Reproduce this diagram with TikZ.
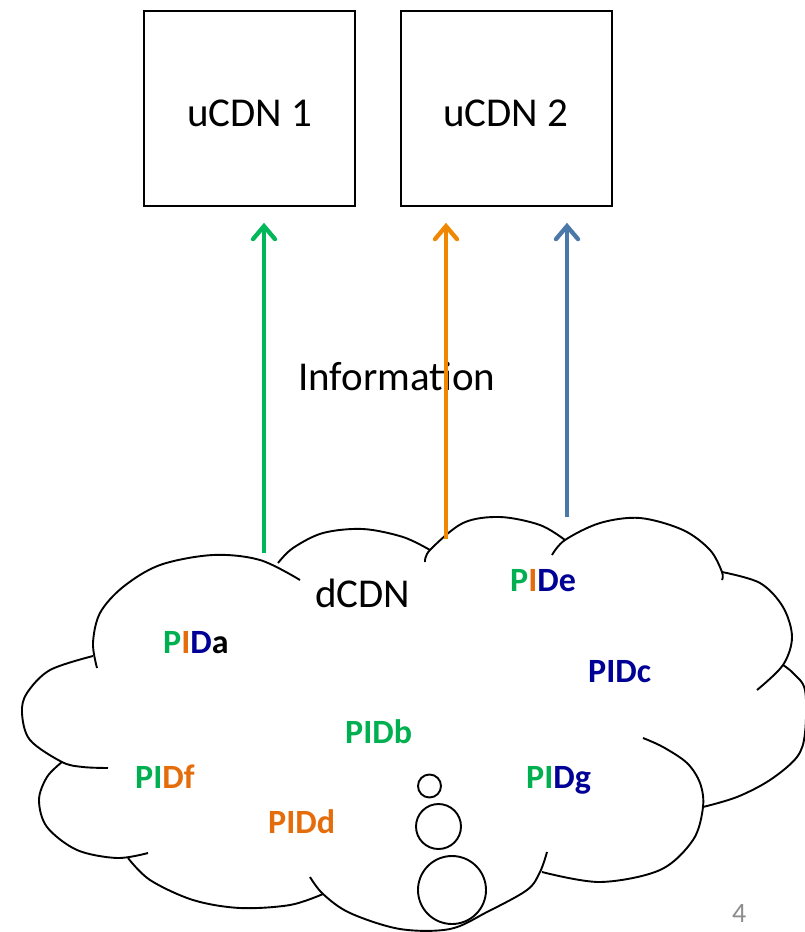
\documentclass[tikz,border=0pt]{standalone}
\usepackage{fontspec}
\setmainfont{Carlito}
\usetikzlibrary{arrows.meta}
\definecolor{pidgreen}{RGB}{0,176,80}
\definecolor{pidorange}{RGB}{228,108,10}
\definecolor{pidblue}{RGB}{0,0,150}
\definecolor{arrgreen}{RGB}{0,184,90}
\definecolor{arrorange}{RGB}{240,135,0}
\definecolor{arrblue}{RGB}{74,120,168}
\definecolor{pagegray}{RGB}{140,140,140}
\begin{document}
\begin{tikzpicture}[x=1pt,y=-1pt,
  box/.style={draw, line width=1.6pt, minimum width=211pt, minimum height=195pt, inner sep=0},
  lbl/.style={anchor=base west, inner sep=0, font=\fontsize{41}{49}\selectfont},
  pid/.style={anchor=base west, inner sep=0, font=\fontsize{34}{40}\selectfont\bfseries},
  infoarrow/.style={line width=4.3pt, -{Straight Barb[length=13pt,width=22pt,line cap=round]}, shorten >=16pt},
  cloudline/.style={line width=1.9pt},
  bubble/.style={circle, draw, line width=1.9pt, inner sep=0}]
\path[use as bounding box] (0,0) rectangle (805,932);

% upstream CDN boxes
\node[box] (u1) at (249.5,108.5) {};
\node[box] (u2) at (506.5,108.5) {};
\node[lbl] (u1t) at (187,126) {uCDN 1};
\node[lbl] (u2t) at (443,126) {uCDN 2};

% label
\node[lbl] (info) at (298,390) {Information};

% cloud lobes
\draw[cloudline] plot[smooth, tension=0.55] coordinates {(97,668) (93,643) (100,613) (123,587) (160,565) (213,555) (260,560) (300,580)};
\draw[cloudline] plot[smooth, tension=0.55] coordinates {(93,656) (50,670) (27,693) (22,713) (30,740) (62,762) (83,767) (108,768)};
\draw[cloudline] plot[smooth, tension=0.55] coordinates {(62,762) (47,777) (39,800) (47,827) (77,850) (117,858) (148,853)};
\draw[cloudline] plot[smooth, tension=0.55] coordinates {(128,858) (150,880) (193,900) (240,908) (290,905) (323,894)};
\draw[cloudline] plot[smooth, tension=0.55] coordinates {(310,877) (323,894) (350,913) (400,929) (450,929) (487,912) (527,890) (540,872) (547,852)};
\draw[cloudline] plot[smooth, tension=0.55] coordinates {(542,872) (600,882) (660,870) (693,840) (703,807) (700,783) (687,763) (663,747) (643,738)};
\draw[cloudline] plot[smooth, tension=0.55] coordinates {(703,807) (737,797) (770,780) (797,757) (805,733) (805,690) (793,673) (783,665)};
\draw[cloudline] plot[smooth, tension=0.55] coordinates {(757,690) (783,665) (792,637) (783,607) (760,583) (722,572)};
\draw[cloudline] plot[smooth, tension=0.55] coordinates {(722,580) (722,572) (710,550) (683,530) (640,518) (600,523) (565,540) (552,555)};
\draw[cloudline] plot[smooth, tension=0.55] coordinates {(565,540) (540,525) (500,517) (463,523) (430,550) (425,562)};
\draw[cloudline] plot[smooth, tension=0.55] coordinates {(430,550) (403,537) (363,529) (323,533) (293,548) (278,563)};

% thought bubbles
\node[bubble, minimum size=23pt] (b1) at (429.5,786) {};
\node[bubble, minimum size=45pt] (b2) at (438.5,826.5) {};
\node[bubble, minimum size=68pt] (b3) at (452,890) {};

% arrows
\coordinate (gs) at (264,553);
\coordinate (os) at (446,539);
\coordinate (bs) at (567,517);
\draw[infoarrow, arrgreen] (gs) -- (gs |- u1.south);
\draw[infoarrow, arrorange] (os) -- (os |- u2.south);
\draw[infoarrow, arrblue] (bs) -- (bs |- u2.south);

% cloud texts
\node[lbl] (dcdn) at (315,607) {dCDN};
\node[pid] (pa) at (163,653) {\textcolor{pidgreen}{P}\textcolor{pidorange}{I}\textcolor{pidblue}{D}a};
\node[pid] (pe) at (510,591) {\textcolor{pidgreen}{P}\textcolor{pidorange}{I}\textcolor{pidblue}{De}};
\node[pid] (pc) at (588,682) {\textcolor{pidblue}{PIDc}};
\node[pid] (pb) at (345,743) {\textcolor{pidgreen}{PIDb}};
\node[pid] (pf) at (135,788) {\textcolor{pidgreen}{PI}\textcolor{pidorange}{Df}};
\node[pid] (pg) at (526,788) {\textcolor{pidgreen}{PI}\textcolor{pidblue}{Dg}};
\node[pid] (pd) at (268,833) {\textcolor{pidorange}{PIDd}};

% page number
\node[anchor=base west, inner sep=0, font=\fontsize{28}{34}\selectfont, text=pagegray] (pn) at (732,922) {4};
\end{tikzpicture}
\end{document}
